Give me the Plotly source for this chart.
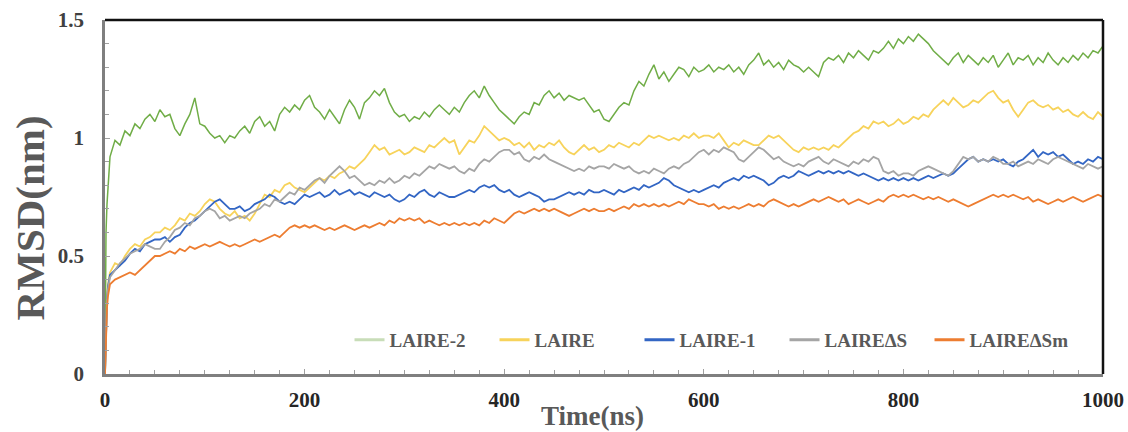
import plotly.graph_objects as go

time_ns = [0, 1, 2, 3, 4] + list(range(5, 1001, 5))

laire2 = [0.00, 0.60, 0.72, 0.78, 0.86,
    0.92, 0.99, 0.97, 1.03, 1.01, 1.06, 1.04, 1.08, 1.10, 1.07,
    1.12, 1.09, 1.10, 1.04, 1.01, 1.06, 1.10, 1.17, 1.06, 1.05,
    1.02, 1.00, 1.01, 0.98, 1.01, 1.00, 1.03, 1.05, 1.02, 1.07,
    1.09, 1.05, 1.07, 1.03, 1.10, 1.13, 1.11, 1.14, 1.12, 1.16,
    1.18, 1.13, 1.11, 1.08, 1.12, 1.09, 1.06, 1.12, 1.16, 1.13,
    1.08, 1.15, 1.17, 1.20, 1.18, 1.21, 1.15, 1.11, 1.09, 1.10,
    1.07, 1.09, 1.08, 1.11, 1.09, 1.12, 1.14, 1.12, 1.10, 1.13,
    1.11, 1.15, 1.18, 1.20, 1.17, 1.22, 1.18, 1.15, 1.12, 1.10,
    1.08, 1.06, 1.09, 1.11, 1.10, 1.15, 1.14, 1.18, 1.20, 1.17,
    1.19, 1.16, 1.18, 1.17, 1.16, 1.17, 1.14, 1.11, 1.12, 1.08,
    1.07, 1.10, 1.13, 1.15, 1.14, 1.20, 1.24, 1.22, 1.27, 1.31,
    1.25, 1.28, 1.24, 1.27, 1.30, 1.29, 1.26, 1.30, 1.28, 1.29,
    1.31, 1.28, 1.30, 1.29, 1.31, 1.28, 1.30, 1.27, 1.31, 1.33,
    1.36, 1.31, 1.33, 1.30, 1.32, 1.29, 1.33, 1.31, 1.30, 1.28,
    1.30, 1.28, 1.26, 1.32, 1.34, 1.33, 1.35, 1.32, 1.36, 1.34,
    1.37, 1.35, 1.33, 1.37, 1.36, 1.38, 1.41, 1.38, 1.42, 1.40,
    1.43, 1.41, 1.44, 1.42, 1.40, 1.37, 1.35, 1.33, 1.31, 1.34,
    1.36, 1.32, 1.35, 1.33, 1.31, 1.34, 1.32, 1.35, 1.30, 1.33,
    1.36, 1.31, 1.34, 1.33, 1.35, 1.31, 1.34, 1.32, 1.36, 1.33,
    1.31, 1.34, 1.32, 1.35, 1.33, 1.36, 1.34, 1.37, 1.36, 1.39]

laire = [0.00, 0.25, 0.33, 0.38, 0.41,
    0.43, 0.47, 0.46, 0.50, 0.53, 0.55, 0.54, 0.57, 0.58, 0.60,
    0.60, 0.62, 0.61, 0.63, 0.66, 0.65, 0.68, 0.67, 0.69, 0.72,
    0.74, 0.73, 0.70, 0.68, 0.67, 0.69, 0.66, 0.67, 0.65, 0.68,
    0.72, 0.76, 0.75, 0.78, 0.77, 0.80, 0.81, 0.79, 0.78, 0.77,
    0.79, 0.81, 0.83, 0.82, 0.84, 0.83, 0.85, 0.86, 0.88, 0.87,
    0.89, 0.91, 0.94, 0.97, 0.95, 0.96, 0.93, 0.94, 0.95, 0.93,
    0.94, 0.96, 0.95, 0.94, 0.97, 0.96, 0.98, 1.00, 0.98, 0.99,
    0.93, 0.96, 0.99, 0.98, 1.01, 1.05, 1.03, 1.01, 0.99, 1.00,
    0.99, 0.97, 0.98, 0.96, 0.98, 0.95, 0.97, 0.96, 0.98, 0.97,
    0.99, 0.96, 0.94, 0.93, 0.95, 0.97, 0.95, 0.96, 0.94, 0.95,
    0.97, 0.96, 0.98, 0.97, 0.96, 0.98, 0.97, 0.99, 1.01, 1.00,
    1.01, 1.00, 0.99, 1.00, 0.99, 1.01, 1.00, 1.02, 1.00, 1.01,
    1.01, 1.00, 1.02, 0.99, 0.96, 0.98, 0.97, 0.99, 0.98, 0.97,
    0.97, 0.99, 1.01, 1.00, 1.01, 0.99, 0.97, 0.95, 0.94, 0.96,
    0.95, 0.96, 0.95, 0.96, 0.95, 0.97, 0.96, 0.98, 1.00, 1.02,
    1.03, 1.05, 1.04, 1.07, 1.06, 1.07, 1.05, 1.06, 1.08, 1.06,
    1.07, 1.09, 1.08, 1.10, 1.09, 1.12, 1.14, 1.16, 1.14, 1.17,
    1.15, 1.13, 1.14, 1.16, 1.15, 1.17, 1.19, 1.20, 1.17, 1.15,
    1.16, 1.12, 1.09, 1.12, 1.15, 1.16, 1.14, 1.13, 1.14, 1.12,
    1.13, 1.11, 1.12, 1.10, 1.09, 1.11, 1.09, 1.08, 1.11, 1.09]

laire1 = [0.00, 0.25, 0.32, 0.37, 0.40,
    0.42, 0.44, 0.46, 0.48, 0.51, 0.53, 0.52, 0.55, 0.56, 0.57,
    0.57, 0.58, 0.56, 0.58, 0.59, 0.62, 0.64, 0.65, 0.67, 0.69,
    0.71, 0.73, 0.74, 0.72, 0.70, 0.70, 0.71, 0.69, 0.70, 0.72,
    0.73, 0.74, 0.76, 0.75, 0.73, 0.72, 0.73, 0.72, 0.74, 0.76,
    0.75, 0.76, 0.77, 0.75, 0.76, 0.78, 0.76, 0.77, 0.78, 0.76,
    0.77, 0.76, 0.75, 0.77, 0.76, 0.75, 0.76, 0.74, 0.73, 0.74,
    0.76, 0.75, 0.77, 0.78, 0.76, 0.75, 0.77, 0.76, 0.75, 0.75,
    0.76, 0.77, 0.78, 0.77, 0.79, 0.80, 0.79, 0.80, 0.78, 0.77,
    0.78, 0.76, 0.75, 0.76, 0.77, 0.76, 0.75, 0.73, 0.74, 0.74,
    0.75, 0.76, 0.77, 0.76, 0.77, 0.76, 0.78, 0.77, 0.77, 0.78,
    0.77, 0.76, 0.78, 0.77, 0.78, 0.79, 0.78, 0.80, 0.79, 0.80,
    0.81, 0.83, 0.82, 0.80, 0.79, 0.78, 0.77, 0.78, 0.77, 0.78,
    0.79, 0.80, 0.79, 0.81, 0.82, 0.83, 0.82, 0.84, 0.83, 0.84,
    0.83, 0.82, 0.80, 0.81, 0.83, 0.84, 0.83, 0.84, 0.86, 0.85,
    0.84, 0.85, 0.86, 0.85, 0.86, 0.85, 0.86, 0.85, 0.86, 0.85,
    0.84, 0.85, 0.84, 0.83, 0.82, 0.83, 0.82, 0.83, 0.82, 0.83,
    0.82, 0.83, 0.82, 0.83, 0.84, 0.83, 0.84, 0.85, 0.84, 0.85,
    0.87, 0.89, 0.91, 0.92, 0.90, 0.91, 0.90, 0.91, 0.90, 0.91,
    0.89, 0.88, 0.90, 0.91, 0.93, 0.95, 0.92, 0.94, 0.93, 0.94,
    0.92, 0.93, 0.91, 0.89, 0.90, 0.89, 0.91, 0.90, 0.92, 0.91]

laire_ds = [0.00, 0.24, 0.31, 0.36, 0.39,
    0.41, 0.44, 0.47, 0.49, 0.51, 0.52, 0.53, 0.55, 0.54, 0.53,
    0.53, 0.56, 0.58, 0.61, 0.62, 0.64, 0.63, 0.66, 0.67, 0.69,
    0.70, 0.69, 0.66, 0.67, 0.65, 0.66, 0.67, 0.66, 0.68, 0.69,
    0.70, 0.72, 0.71, 0.74, 0.73, 0.75, 0.77, 0.76, 0.79, 0.78,
    0.80, 0.82, 0.83, 0.81, 0.84, 0.86, 0.88, 0.86, 0.83, 0.84,
    0.82, 0.80, 0.81, 0.80, 0.82, 0.81, 0.83, 0.81, 0.82, 0.84,
    0.83, 0.85, 0.84, 0.86, 0.88, 0.87, 0.89, 0.88, 0.87, 0.88,
    0.86, 0.85, 0.87, 0.86, 0.89, 0.91, 0.90, 0.92, 0.94, 0.95,
    0.95, 0.93, 0.94, 0.91, 0.90, 0.92, 0.91, 0.93, 0.91, 0.90,
    0.89, 0.88, 0.87, 0.86, 0.87, 0.86, 0.88, 0.87, 0.88, 0.88,
    0.87, 0.89, 0.88, 0.87, 0.88, 0.86, 0.85, 0.86, 0.85, 0.87,
    0.86, 0.85, 0.87, 0.88, 0.87, 0.89, 0.90, 0.92, 0.94, 0.95,
    0.93, 0.95, 0.94, 0.96, 0.95, 0.94, 0.91, 0.90, 0.92, 0.94,
    0.96, 0.95, 0.93, 0.91, 0.92, 0.90, 0.89, 0.88, 0.89, 0.88,
    0.90, 0.91, 0.92, 0.90, 0.89, 0.91, 0.90, 0.89, 0.88, 0.90,
    0.89, 0.91, 0.90, 0.92, 0.91, 0.86, 0.85, 0.86, 0.84, 0.85,
    0.85, 0.84, 0.86, 0.87, 0.88, 0.87, 0.86, 0.85, 0.84, 0.86,
    0.89, 0.92, 0.91, 0.92, 0.90, 0.91, 0.90, 0.92, 0.91, 0.89,
    0.89, 0.90, 0.88, 0.89, 0.90, 0.89, 0.91, 0.90, 0.89, 0.91,
    0.92, 0.91, 0.90, 0.89, 0.88, 0.87, 0.89, 0.88, 0.87, 0.88]

laire_dsm = [0.00, 0.20, 0.28, 0.33, 0.36,
    0.38, 0.40, 0.41, 0.42, 0.43, 0.42, 0.44, 0.46, 0.48, 0.50,
    0.50, 0.51, 0.52, 0.51, 0.53, 0.52, 0.54, 0.53, 0.54, 0.55,
    0.54, 0.55, 0.56, 0.55, 0.54, 0.55, 0.54, 0.55, 0.56, 0.57,
    0.56, 0.57, 0.58, 0.59, 0.58, 0.60, 0.62, 0.63, 0.62, 0.63,
    0.62, 0.63, 0.62, 0.61, 0.62, 0.61, 0.62, 0.63, 0.62, 0.61,
    0.62, 0.63, 0.62, 0.63, 0.64, 0.63, 0.65, 0.64, 0.66, 0.65,
    0.66, 0.65, 0.66, 0.64, 0.65, 0.64, 0.63, 0.64, 0.63, 0.64,
    0.63, 0.64, 0.63, 0.64, 0.63, 0.65, 0.64, 0.66, 0.65, 0.64,
    0.66, 0.68, 0.69, 0.68, 0.69, 0.70, 0.69, 0.70, 0.69, 0.70,
    0.69, 0.68, 0.67, 0.68, 0.69, 0.70, 0.69, 0.70, 0.69, 0.69,
    0.70, 0.69, 0.70, 0.71, 0.70, 0.72, 0.71, 0.72, 0.71, 0.72,
    0.71, 0.72, 0.71, 0.72, 0.73, 0.72, 0.74, 0.73, 0.72, 0.72,
    0.71, 0.72, 0.70, 0.71, 0.70, 0.71, 0.70, 0.71, 0.72, 0.71,
    0.72, 0.71, 0.73, 0.74, 0.73, 0.72, 0.71, 0.72, 0.71, 0.72,
    0.73, 0.74, 0.73, 0.74, 0.75, 0.74, 0.73, 0.74, 0.72, 0.73,
    0.74, 0.73, 0.72, 0.73, 0.74, 0.73, 0.75, 0.76, 0.75, 0.76,
    0.75, 0.76, 0.75, 0.74, 0.75, 0.74, 0.75, 0.74, 0.73, 0.74,
    0.73, 0.72, 0.71, 0.72, 0.73, 0.74, 0.75, 0.76, 0.75, 0.76,
    0.75, 0.76, 0.75, 0.74, 0.75, 0.73, 0.74, 0.73, 0.72, 0.73,
    0.74, 0.73, 0.74, 0.75, 0.74, 0.73, 0.74, 0.75, 0.76, 0.75]

series_names = ["LAIRE-2", "LAIRE", "LAIRE-1", "LAIREΔS", "LAIREΔSm"]
series_colors = ["#70AD47", "#F7D35B", "#3366C4", "#A5A5A5", "#ED7D31"]
legend_colors = ["#C8DDB8", "#F7D35B", "#3366C4", "#A5A5A5", "#ED7D31"]
series_values = [laire2, laire, laire1, laire_ds, laire_dsm]
x_ticks = [0, 200, 400, 600, 800, 1000]
y_ticks = [0, 0.5, 1, 1.5]
y_tick_labels = ["0", "0.5", "1", "1.5"]

SERIF = "Liberation Serif"

fig = go.Figure()
for i, (name, col, vals) in enumerate(zip(series_names, series_colors, series_values)):
    fig.add_trace(go.Scatter(
        x=time_ns, y=vals, mode="lines", name=name,
        line=dict(color=col, width=1.5 if i == 0 else 1.8),
        showlegend=False,
    ))
for i, (name, col) in enumerate(zip(series_names, legend_colors)):
    fig.add_trace(go.Scatter(
        x=[None], y=[None], mode="lines", name=name,
        line=dict(color=col, width=3), showlegend=True,
    ))

fig.update_layout(
    width=1128, height=432,
    margin=dict(l=105, r=25, t=20, b=58, autoexpand=False),
    paper_bgcolor="white", plot_bgcolor="white",
    font=dict(family=SERIF, color="#404040"),
    legend=dict(
        orientation="h", x=0.245, xanchor="left", y=0.096, yanchor="middle",
        bgcolor="rgba(0,0,0,0)", font=dict(size=19, family=SERIF, color="#595959", weight="bold"),
        entrywidth=100, entrywidthmode="pixels", itemwidth=30, tracegroupgap=0,
    ),
    xaxis=dict(
        range=[0, 1000], tickvals=x_ticks, ticktext=[str(v) for v in x_ticks],
        automargin=False,
        showgrid=False, zeroline=False, showline=True, linecolor="#7F7F7F", linewidth=3,
        ticks="inside", ticklen=5, tickcolor="#A0A0A0",
        minor=dict(dtick=25, ticks="inside", ticklen=4, tickcolor="#A0A0A0"),
        tickfont=dict(size=21, family=SERIF, color="#262626", weight="bold"),
        ticklabelstandoff=5,
    ),
    yaxis=dict(
        range=[0, 1.5], tickvals=y_ticks, ticktext=y_tick_labels,
        automargin=False,
        showgrid=False, zeroline=False, showline=True, linecolor="#7F7F7F", linewidth=2.5,
        ticks="inside", ticklen=5, tickcolor="#A0A0A0",
        minor=dict(dtick=0.1, ticks="inside", ticklen=4, tickcolor="#A0A0A0"),
        tickfont=dict(size=21, family=SERIF, color="#404040", weight="bold"),
        ticklabelstandoff=14,
    ),
    shapes=[
        dict(type="line", xref="paper", yref="paper", x0=0, x1=1, y0=1, y1=1,
             line=dict(color="#111111", width=2.5)),
        dict(type="line", xref="paper", yref="paper", x0=1, x1=1, y0=0, y1=1,
             line=dict(color="#111111", width=2.5)),
    ],
    annotations=[
        dict(text="Time(ns)", xref="paper", yref="paper", x=0.488, y=-0.166,
             xanchor="center", yanchor="bottom", showarrow=False,
             font=dict(size=27, family=SERIF, color="#595959", weight="bold")),
        dict(text="RMSD(nm)", xref="paper", yref="paper", x=-0.075, y=0.44,
             xanchor="center", yanchor="middle", showarrow=False, textangle=-90,
             font=dict(size=41, family=SERIF, color="#595959", weight="bold")),
    ],
)

fig.write_html("out.html", config={"displayModeBar": False},
               post_script="document.body.style.margin='0';document.body.style.overflow='hidden';")
